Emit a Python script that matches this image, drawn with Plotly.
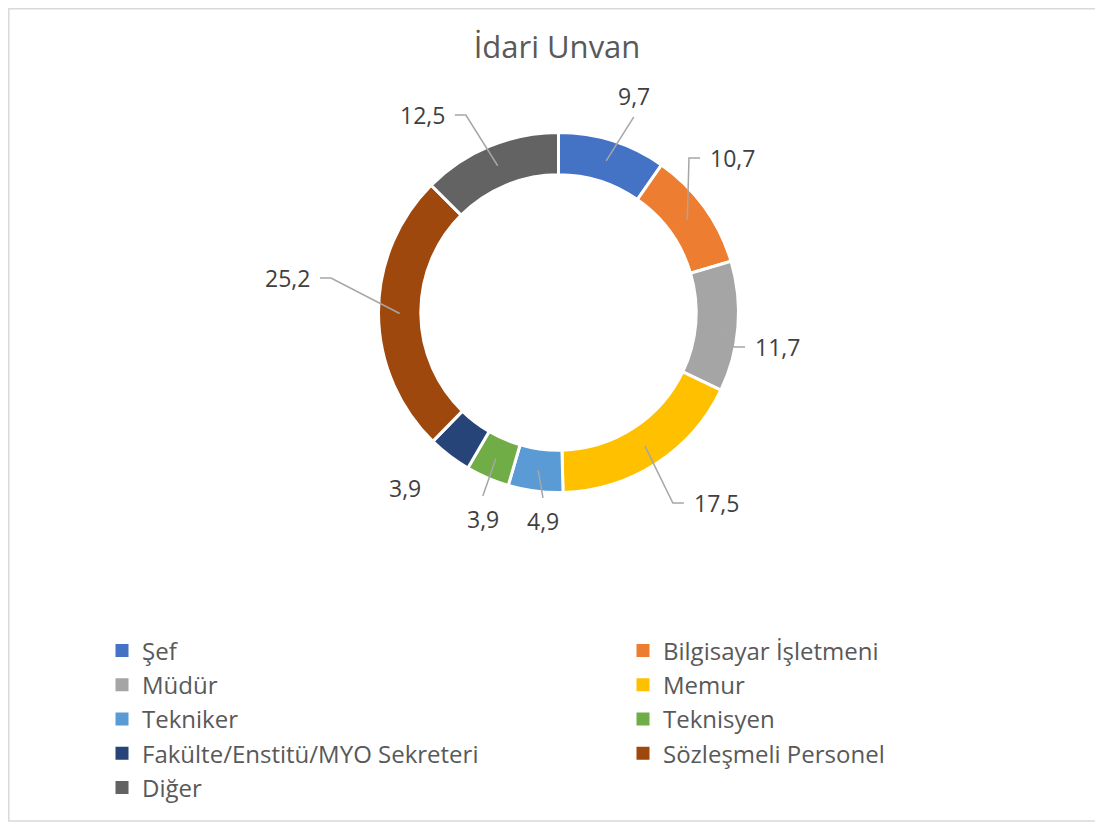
import math
import plotly.graph_objects as go

# ---- data ----
categories = ["Şef", "Bilgisayar İşletmeni", "Müdür", "Memur", "Tekniker",
              "Teknisyen", "Fakülte/Enstitü/MYO Sekreteri", "Sözleşmeli Personel", "Diğer"]
values = [9.7, 10.7, 11.7, 17.5, 4.9, 3.9, 3.9, 25.2, 12.5]
title_text = "İdari Unvan"

# ---- styles ----
colors = ["#4472C4", "#ED7D31", "#A5A5A5", "#FFC000", "#5B9BD5",
          "#70AD47", "#264478", "#9E480E", "#636363"]
FONT = "Open Sans, Lato, sans-serif"
W, H = 1103, 823
PAGE_OFFSET = 8          # default body margin of the written html page
CX, CY, R = 558.5, 312.5, 180.0
HOLE = 0.765
R_MID = R * (1 + HOLE) / 2

# label placement: (angle offset from slice middle in degrees, radius px, side of text)
label_layout = [
    (3.6, 209.6, "above"),
    (-11.7, 209.5, "right"),
    (6.0, 189.7, "right"),
    (-0.4, 228.1, "right"),
    (-2.6, 186.1, "below"),
    (-0.8, 198.4, "below"),
    (3.9, 233.2, "none"),
    (8.6, 241.0, "left"),
    (-5.2, 223.0, "left"),
]


def px(x):
    return (x - PAGE_OFFSET) / W


def py(y):
    return 1 - (y - PAGE_OFFSET) / H


def polar(angle_deg, r):
    a = math.radians(angle_deg)
    return CX + r * math.sin(a), CY - r * math.cos(a)


fig = go.Figure(go.Pie(
    labels=categories,
    values=values,
    hole=HOLE,
    sort=False,
    direction="clockwise",
    rotation=0,
    marker=dict(colors=colors, line=dict(color="white", width=3)),
    textinfo="none",
    hoverinfo="label+value",
    showlegend=False,
    domain=dict(x=[px(CX - R), px(CX + R)], y=[py(CY + R), py(CY - R)]),
))

# legend entries (two columns, filled row by row)
for i, (name, col) in enumerate(zip(categories, colors)):
    fig.add_trace(go.Scatter(
        x=[None], y=[None], mode="markers", name=name,
        marker=dict(symbol="square", size=13, color=col),
        legend="legend" if i % 2 == 0 else "legend2",
        showlegend=True, hoverinfo="skip",
    ))

total = sum(values)
cum = 0.0
shapes = []
annotations = []
for v, (doff, rad, side) in zip(values, label_layout):
    mid = (cum + v / 2) / total * 360.0
    cum += v
    txt = f"{v:.1f}".replace(".", ",")
    ex, ey = polar(mid + doff, rad)
    sx, sy = polar(mid, R_MID)
    ann = dict(text=txt, showarrow=False, xref="paper", yref="paper",
               font=dict(family=FONT, size=23, color="#404040"))
    if side == "none":
        ann.update(x=px(ex), y=py(ey), xanchor="center", yanchor="middle")
    else:
        if side in ("right", "left"):
            sgn = 1 if side == "right" else -1
            elx, ely = ex - sgn * 11, ey
            path = f"M {px(sx)},{py(sy)} L {px(elx)},{py(ely)} L {px(ex)},{py(ey)}"
            ann.update(x=px(ex), y=py(ey), xanchor="left" if side == "right" else "right",
                       yanchor="middle", xshift=sgn * 8)
        else:
            path = f"M {px(sx)},{py(sy)} L {px(ex)},{py(ey)}"
            dy = -21 if side == "above" else 23
            ann.update(x=px(ex), y=py(ey + dy), xanchor="center", yanchor="middle")
        shapes.append(dict(type="path", path=path, xref="paper", yref="paper",
                           line=dict(color="#A6A6A6", width=1.5)))
    annotations.append(ann)

# chart border (as close to the page corner as the figure allows)
shapes.append(dict(type="rect", xref="paper", yref="paper", x0=px(8.8), x1=px(1130),
                   y0=py(821), y1=py(8.8), line=dict(color="#D9D9D9", width=1.5),
                   layer="below"))

legend_style = dict(orientation="v", yanchor="top", xanchor="left", traceorder="normal",
                    font=dict(family=FONT, size=24, color="#595959"),
                    bgcolor="rgba(0,0,0,0)", borderwidth=0, tracegroupgap=0)

fig.update_layout(
    width=W, height=H,
    margin=dict(l=0, r=0, t=0, b=0),
    paper_bgcolor="white", plot_bgcolor="white",
    title=dict(text=title_text, x=px(557), xanchor="center", y=py(47), yanchor="middle",
               yref="paper", font=dict(family=FONT, size=31, color="#595959")),
    showlegend=True,
    xaxis=dict(visible=False),
    yaxis=dict(visible=False),
    legend=dict(x=px(102), y=py(628.5), **legend_style),
    legend2=dict(x=px(623), y=py(628.5), **legend_style),
    shapes=shapes,
    annotations=annotations,
)

fig.write_html("out.html")
